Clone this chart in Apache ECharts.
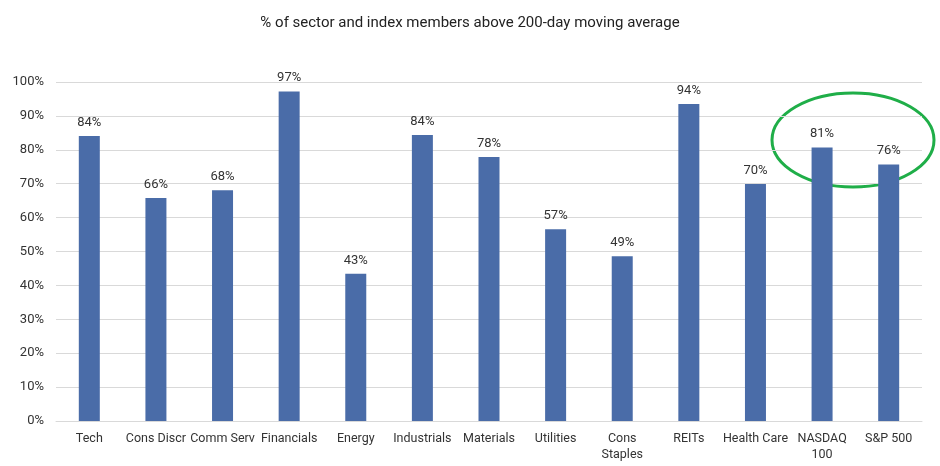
<!DOCTYPE html>
<html style="height: 100%">
<head>
<meta charset="utf-8">
</head>
<body style="height: 100%; margin: 0; background: #fff">
	<div id="container" style="width: 940px; height: 466px"></div>
	<script type="text/javascript" src="https://cdn.jsdelivr.net/npm/echarts@6/dist/echarts.min.js"></script>
	<script type="text/javascript">
		var categories = ['Tech', 'Cons Discr', 'Comm Serv', 'Financials', 'Energy', 'Industrials',
			'Materials', 'Utilities', 'Cons\nStaples', 'REITs', 'Health Care', 'NASDAQ\n100', 'S&P 500'];
		var values = [84.1, 65.8, 68.1, 97.2, 43.4, 84.4, 77.9, 56.6, 48.6, 93.5, 69.9, 80.7, 75.7];
		var yTicks = [0, 10, 20, 30, 40, 50, 60, 70, 80, 90, 100];

		var dom = document.getElementById("container");
		var myChart = echarts.init(dom);
		var option = {
			animation: false,
			textStyle: { fontFamily: 'Roboto' },
			title: {
				text: '% of sector and index members above 200-day moving average',
				left: 'center',
				top: 11,
				textStyle: { fontSize: 15, fontWeight: 'normal', color: '#222' }
			},
			grid: { left: 56, right: 18, top: 82, bottom: 45 },
			xAxis: {
				type: 'category',
				data: categories,
				axisTick: { show: false },
				axisLine: { lineStyle: { color: '#d9d9d9' } },
				axisLabel: { color: '#333', fontSize: 12.5, margin: 10, interval: 0, lineHeight: 16 }
			},
			yAxis: {
				type: 'value',
				min: yTicks[0],
				max: yTicks[yTicks.length - 1],
				interval: 10,
				axisLabel: { color: '#333', fontSize: 13, margin: 12, formatter: '{value}%' },
				splitLine: { lineStyle: { color: '#d9d9d9' } }
			},
			series: [{
				type: 'bar',
				data: values,
				barWidth: 21,
				itemStyle: { color: '#4a6ca8' },
				label: {
					show: true,
					position: 'top',
					distance: 7,
					color: '#333',
					fontSize: 13,
					formatter: function (p) { return Math.round(p.value) + '%'; }
				}
			}],
			graphic: [{
				type: 'ellipse',
				shape: { cx: 853, cy: 140, rx: 81, ry: 47 },
				style: { fill: 'none', stroke: '#1fae48', lineWidth: 3 }
			}]
		};
		myChart.setOption(option, true);
	</script>
</body>
</html>
